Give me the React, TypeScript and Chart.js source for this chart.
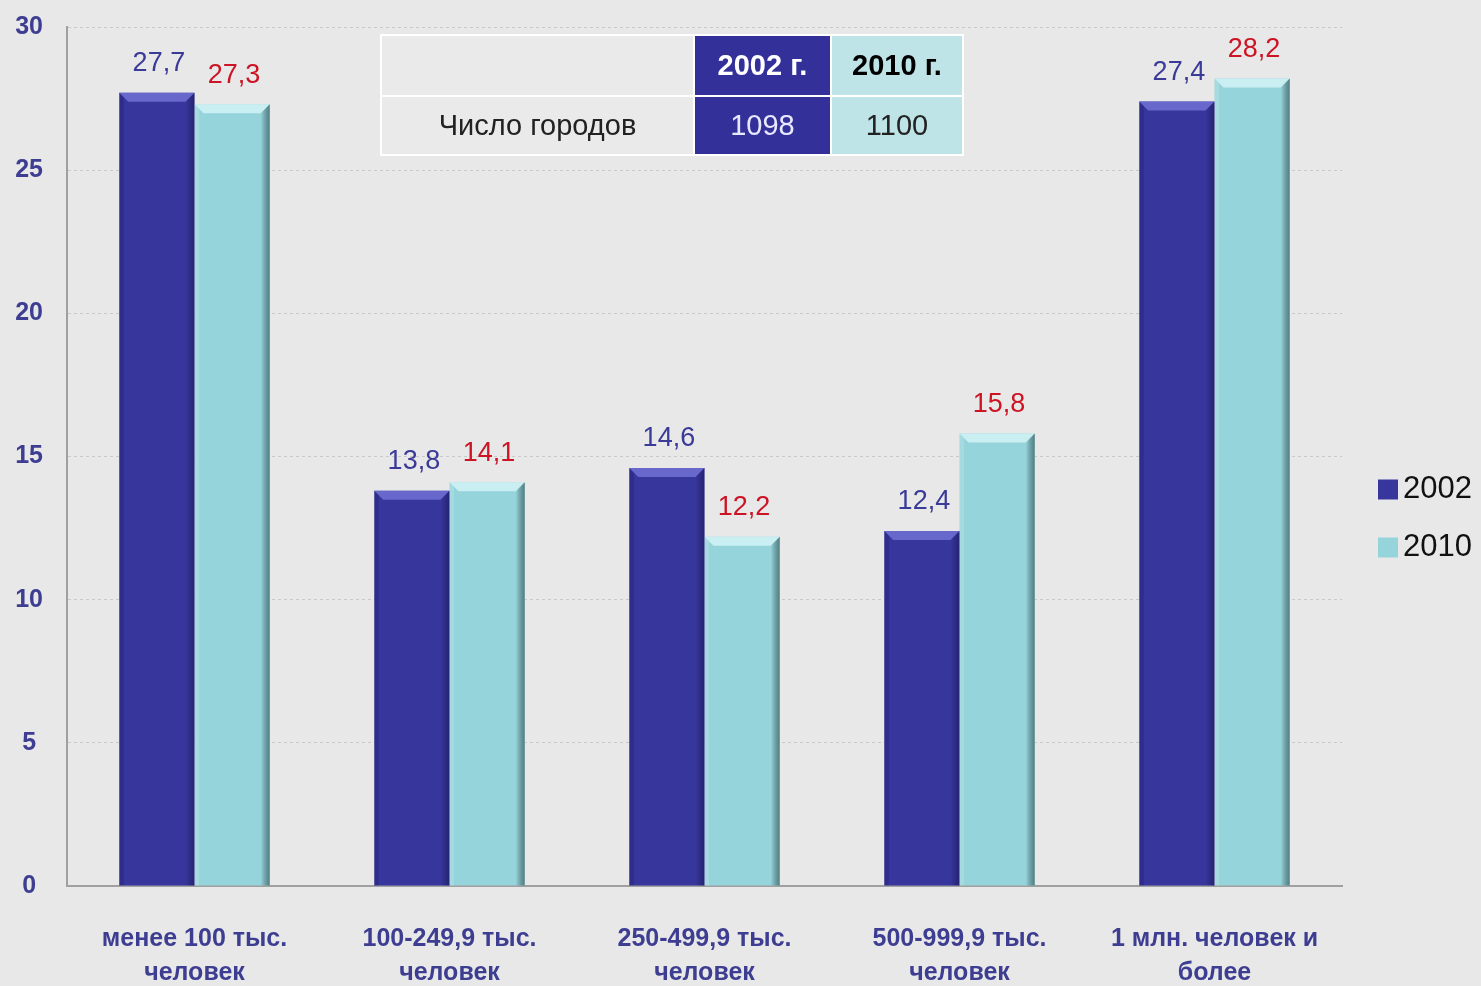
import React, { useEffect, useRef } from "react";
import { Chart, registerables } from "chart.js";

Chart.register(...registerables);

const categories: string[][] = [
  ["менее 100 тыс.", "человек"],
  ["100-249,9 тыс.", "человек"],
  ["250-499,9 тыс.", "человек"],
  ["500-999,9 тыс.", "человек"],
  ["1 млн. человек и", "более"],
];
const series2002: number[] = [27.7, 13.8, 14.6, 12.4, 27.4];
const series2010: number[] = [27.3, 14.1, 12.2, 15.8, 28.2];
const seriesNames: string[] = ["2002", "2010"];
const tableHeader: string[] = ["", "2002 г.", "2010 г."];
const tableRow: string[] = ["Число городов", "1098", "1100"];

const FONT = "'Liberation Sans Narrow', 'Liberation Sans', Arial, sans-serif";
const C2002 = "#37369d";
const C2010 = "#96d4dc";
const AXIS_TEXT = "#3d3d92";

const bevelPlugin = {
  id: "bevel",
  afterDatasetsDraw(chart: any) {
    const ctx = chart.ctx;
    chart.data.datasets.forEach((ds: any, di: number) => {
      const meta = chart.getDatasetMeta(di);
      meta.data.forEach((bar: any) => {
        const { x, y, base, width } = bar.getProps(["x", "y", "base", "width"], true);
        const l = x - width / 2;
        const r = x + width / 2;
        const b = 9;
        ctx.save();
        ctx.fillStyle = di === 0 ? "rgba(120,120,220,0.75)" : "rgba(215,245,248,0.8)";
        ctx.beginPath();
        ctx.moveTo(l, y);
        ctx.lineTo(r, y);
        ctx.lineTo(r - b, y + b);
        ctx.lineTo(l + b, y + b);
        ctx.closePath();
        ctx.fill();
        const g = ctx.createLinearGradient(r - b, 0, r, 0);
        g.addColorStop(0, "rgba(0,0,0,0)");
        g.addColorStop(1, di === 0 ? "rgba(0,0,40,0.35)" : "rgba(20,60,60,0.55)");
        ctx.fillStyle = g;
        ctx.beginPath();
        ctx.moveTo(r, y);
        ctx.lineTo(r, base);
        ctx.lineTo(r - b, base);
        ctx.lineTo(r - b, y + b);
        ctx.closePath();
        ctx.fill();
        ctx.fillStyle = di === 0 ? "rgba(0,0,40,0.15)" : "rgba(255,255,255,0.15)";
        ctx.beginPath();
        ctx.moveTo(l, y);
        ctx.lineTo(l + b * 0.5, y + b * 0.5);
        ctx.lineTo(l + b * 0.5, base);
        ctx.lineTo(l, base);
        ctx.closePath();
        ctx.fill();
        ctx.restore();
      });
    });
  },
};

const labelPlugin = {
  id: "valueLabels",
  afterDatasetsDraw(chart: any) {
    const ctx = chart.ctx;
    ctx.save();
    ctx.font = `27px ${FONT}`;
    ctx.textAlign = "center";
    ctx.textBaseline = "middle";
    chart.data.datasets.forEach((ds: any, di: number) => {
      const meta = chart.getDatasetMeta(di);
      ctx.fillStyle = di === 0 ? "#3a3a98" : "#cc1424";
      meta.data.forEach((bar: any, i: number) => {
        const v = ds.data[i] as number;
        ctx.fillText(v.toFixed(1).replace(".", ","), bar.x + 2, bar.y - 29);
      });
    });
    ctx.restore();
  },
};

const legendPlugin = {
  id: "sideLegend",
  afterDraw(chart: any) {
    const ctx = chart.ctx;
    const area = chart.chartArea;
    ctx.save();
    ctx.font = `31px ${FONT}`;
    ctx.textBaseline = "middle";
    ctx.textAlign = "left";
    const x0 = area.right + 36;
    const yc = (area.top + area.bottom) / 2 + 62;
    const n = chart.data.datasets.length;
    chart.data.datasets.forEach((ds: any, i: number) => {
      const y = yc + (i - (n - 1) / 2) * 58;
      ctx.fillStyle = ds.backgroundColor;
      ctx.fillRect(x0, y - 10, 20, 20);
      ctx.fillStyle = "#111";
      ctx.fillText(ds.label, x0 + 25, y);
    });
    ctx.restore();
  },
};

export default function App() {
  const ref = useRef<HTMLCanvasElement>(null);

  useEffect(() => {
    document.body.style.margin = "0";
    document.body.style.background = "#e8e8e8";
    const chart = new Chart(ref.current!, {
      type: "bar",
      data: {
        labels: categories,
        datasets: [
          { label: seriesNames[0], data: series2002, backgroundColor: C2002, categoryPercentage: 0.59, barPercentage: 1 },
          { label: seriesNames[1], data: series2010, backgroundColor: C2010, categoryPercentage: 0.59, barPercentage: 1 },
        ],
      },
      options: {
        animation: false,
        responsive: false,
        layout: { padding: { top: 27, right: 139, left: 0, bottom: 0 } },
        plugins: {
          legend: { display: false },
          tooltip: { enabled: false },
        },
        scales: {
          x: {
            grid: { display: false, drawTicks: false },
            border: { color: "#a0a0a0", width: 2 },
            ticks: {
              font: { size: 25, family: FONT, weight: "bold", lineHeight: 1.36 },
              color: AXIS_TEXT,
              padding: 36,
              maxRotation: 0,
              autoSkip: false,
            },
            afterFit(scale: any) {
              scale.height = 100;
              scale.paddingLeft = 0;
              scale.paddingRight = 0;
            },
          },
          y: {
            min: 0,
            max: 30,
            grid: { color: "#c9c9c9", drawTicks: false },
            border: { color: "#a0a0a0", width: 2, dash: [3, 3] },
            ticks: {
              stepSize: 5,
              font: { size: 25, family: FONT, weight: "bold" },
              color: AXIS_TEXT,
              padding: 24,
              crossAlign: "center",
            },
            afterFit(scale: any) {
              scale.width = 67;
              scale.paddingTop = 0;
              scale.paddingBottom = 0;
            },
          },
        },
      },
      plugins: [bevelPlugin, labelPlugin, legendPlugin],
    } as any);
    return () => chart.destroy();
  }, []);

  const cell: React.CSSProperties = {
    border: "2px solid #ffffff",
    textAlign: "center",
    verticalAlign: "middle",
    padding: 0,
    fontFamily: FONT,
    fontSize: 29,
  };

  return (
    <div style={{ position: "relative", width: 1481, height: 986, background: "#e8e8e8" }}>
      <canvas ref={ref} width={1481} height={986} style={{ display: "block" }} />
      <table
        style={{
          position: "absolute",
          left: 380,
          top: 34,
          borderCollapse: "collapse",
          border: "2px solid #fff",
        }}
      >
        <tbody>
          <tr style={{ height: 61 }}>
            <td style={{ ...cell, width: 311, background: "#eaeaea" }}>{tableHeader[0]}</td>
            <td style={{ ...cell, width: 135, background: "#33309a", color: "#fff", fontWeight: "bold" }}>{tableHeader[1]}</td>
            <td style={{ ...cell, width: 130, background: "#bee4e7", color: "#000", fontWeight: "bold" }}>{tableHeader[2]}</td>
          </tr>
          <tr style={{ height: 59 }}>
            <td style={{ ...cell, background: "#eaeaea", color: "#222" }}>{tableRow[0]}</td>
            <td style={{ ...cell, background: "#33309a", color: "#e8e8ff" }}>{tableRow[1]}</td>
            <td style={{ ...cell, background: "#bee4e7", color: "#222" }}>{tableRow[2]}</td>
          </tr>
        </tbody>
      </table>
    </div>
  );
}
